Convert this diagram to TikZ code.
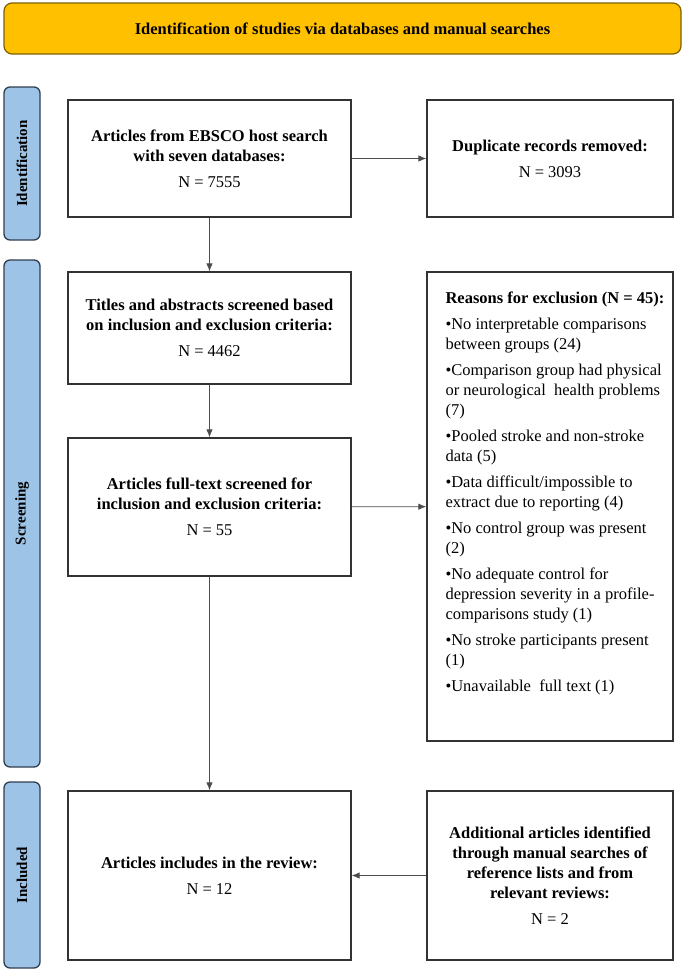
\documentclass[tikz,border=0pt]{standalone}
\usepackage{fontspec}
\setmainfont{Liberation Serif}
\usepackage{xcolor}
\usepackage{tikz}
\usetikzlibrary{arrows.meta}
\definecolor{bannergold}{HTML}{FFC000}
\definecolor{bannerline}{HTML}{7F6000}
\definecolor{sideblue}{HTML}{9DC3E6}
\definecolor{sideline}{HTML}{2F3E50}

\begin{document}
\begin{tikzpicture}[x=1pt, y=-1pt,
		box/.style={draw=black!80, line width=1.3pt, fill=white, align=center, inner sep=0pt},
		side/.style={draw=sideline, line width=1.3pt, fill=sideblue, rounded corners=6pt, inner sep=0pt, rotate=90, font=\fontsize{15}{17}\selectfont\bfseries},
		link/.style={-{Latex[length=8pt, width=6.5pt]}, draw=black!70, line width=0.9pt},
		big/.style={font=\fontsize{16.5}{20}\selectfont}]

		\useasboundingbox (0,0) rectangle (685,972);

		% banner and stage labels
		\node[draw=bannerline, line width=1.2pt, fill=bannergold, rounded corners=8pt, minimum width=677pt, minimum height=51pt, big] (banner) at (342.5,28.5) {\bfseries Identification of studies via databases and manual searches};
		\node[side, minimum width=153pt, minimum height=36pt] (sideid) at (22,163.5) {Identification};
		\node[side, minimum width=507pt, minimum height=36pt] (sidescr) at (22,513.5) {Screening};
		\node[side, minimum width=186pt, minimum height=36pt] (sideinc) at (22,875) {Included};

		% boxes
		\node[box, big, minimum width=283pt, minimum height=117pt] (search) at (209.5,158.5) {\bfseries Articles from EBSCO host search\\ \bfseries with seven databases:\\[6pt] N = 7555};
		\node[box, big, minimum width=246pt, minimum height=117pt] (dupl) at (550,158.5) {\bfseries Duplicate records removed:\\[6pt] N = 3093};
		\node[box, big, minimum width=283pt, minimum height=112pt] (titles) at (209.5,328) {\bfseries Titles and abstracts screened based\\ \bfseries on inclusion and exclusion criteria:\\[6pt] N = 4462};
		\node[box, big, minimum width=283pt, minimum height=138pt] (full) at (209.5,507) {\bfseries Articles full-text screened for\\ \bfseries inclusion and exclusion criteria:\\[6pt] N = 55};
		\node[box, minimum width=246pt, minimum height=469pt] (excl) at (550,506.5) {};
		\node[anchor=north west, align=left, big, inner sep=0pt] (reasons) at ([xshift=19pt, yshift=-20pt]excl.north west) {%
			\bfseries Reasons for exclusion (N = 45):\\[6pt]
			•No interpretable comparisons\\ between groups (24)\\[6pt]
			•Comparison group had physical\\ or neurological \ health problems\\ (7)\\[6pt]
			•Pooled stroke and non-stroke\\ data (5)\\[6pt]
			•Data difficult/impossible to\\ extract due to reporting (4)\\[6pt]
			•No control group was present\\ (2)\\[6pt]
			•No adequate control for\\ depression severity in a profile-\\ comparisons study (1)\\[6pt]
			•No stroke participants present\\ (1)\\[6pt]
			•Unavailable \ full text (1)};
		\node[box, big, minimum width=283pt, minimum height=169pt] (incl) at (209.5,875.5) {\bfseries Articles includes in the review:\\[6pt] N = 12};
		\node[box, big, minimum width=246pt, minimum height=169pt] (extra) at (550,875.5) {\bfseries Additional articles identified\\ \bfseries through manual searches of\\ \bfseries reference lists and from\\ \bfseries relevant reviews:\\[6pt] N = 2};

		% connectors
		\foreach \s/\t in {search/dupl, search/titles, titles/full, full/excl, full/incl, extra/incl} {
			\draw[link] (\s) -- (\t);
		}

	\end{tikzpicture}
\end{document}
